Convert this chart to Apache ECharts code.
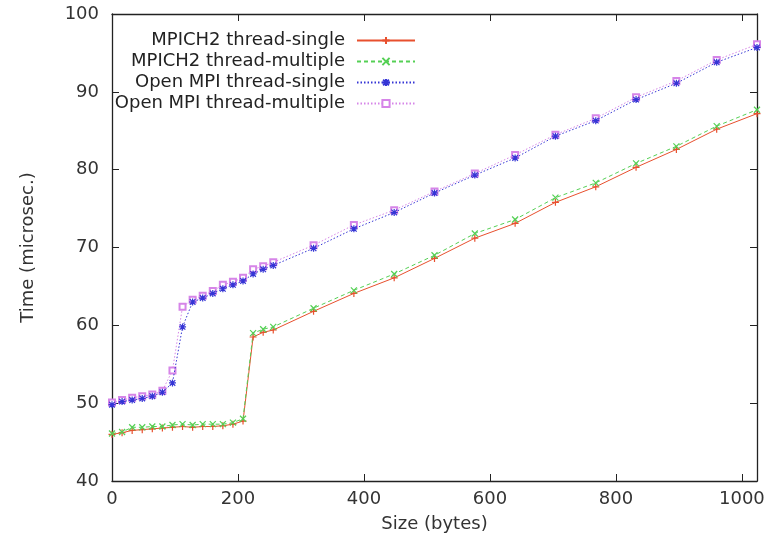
<!DOCTYPE html>
<html>
<head>
<meta charset="utf-8">
<script src="https://cdn.jsdelivr.net/npm/echarts@6/dist/echarts.min.js"></script>
<style>
html, body { margin: 0; padding: 0; background: #fff; }
#chart { width: 774px; height: 542px; }
</style>
</head>
<body>
<div id="chart"></div>
<script>
// message sizes in bytes
const sizes = [0, 16, 32, 48, 64, 80, 96, 112, 128, 144, 160, 176, 192, 208, 224, 240, 256,
  320, 384, 448, 512, 576, 640, 704, 768, 832, 896, 960, 1024]

// times in microseconds
const mpichSingle = [46.0, 46.2, 46.5, 46.6, 46.7, 46.8, 46.9, 47.0, 46.9, 47.0, 47.0, 47.1, 47.3, 47.7, 58.5, 59.1, 59.4,
  61.8, 64.1, 66.1, 68.6, 71.2, 73.1, 75.8, 77.8, 80.3, 82.6, 85.2, 87.2]
const mpichMulti = [46.1, 46.3, 46.9, 46.9, 47.0, 47.0, 47.2, 47.3, 47.2, 47.3, 47.3, 47.3, 47.5, 48.0, 59.0, 59.5, 59.8,
  62.2, 64.5, 66.6, 69.0, 71.8, 73.6, 76.4, 78.3, 80.8, 83.0, 85.6, 87.7]
const ompiSingle = [49.8, 50.2, 50.4, 50.6, 50.9, 51.4, 52.6, 59.8, 63.0, 63.5, 64.1, 64.7, 65.2, 65.7, 66.6, 67.2, 67.7,
  69.9, 72.4, 74.5, 77.0, 79.3, 81.5, 84.3, 86.3, 89.0, 91.1, 93.8, 95.7]
const ompiMulti = [50.1, 50.4, 50.7, 50.9, 51.1, 51.6, 54.2, 62.4, 63.3, 63.8, 64.4, 65.2, 65.6, 66.1, 67.2, 67.6, 68.1,
  70.3, 72.9, 74.8, 77.2, 79.5, 81.9, 84.5, 86.6, 89.3, 91.4, 94.1, 96.1]

const xTicks = [0, 200, 400, 600, 800, 1000]
const yTicks = [40, 50, 60, 70, 80, 90, 100]

const seriesNames = ['MPICH2 thread-single', 'MPICH2 thread-multiple', 'Open MPI thread-single', 'Open MPI thread-multiple']

const font = 'DejaVu Sans, sans-serif'
const plusPath = 'path://M0,5L10,5M5,0L5,10'
const crossPath = 'path://M1,1L9,9M9,1L1,9'
const starPath = 'path://M0,5L10,5M5,0L5,10M1,1L9,9M9,1L1,9'

const chart = echarts.init(document.getElementById('chart'))

function zip(values) {
  return sizes.map((s, i) => [s, values[i]])
}

function makeSeries(name, values, color, symbol, symbolSize, lineType, z) {
  const empty = symbol === 'emptyRect'
  return {
    name: name,
    type: 'line',
    data: zip(values),
    color: color,
    symbol: symbol,
    symbolSize: symbolSize,
    showAllSymbol: true,
    z: z,
    lineStyle: { color: color, width: 1, type: lineType },
    itemStyle: empty
      ? { color: color, borderColor: color, borderWidth: 1 }
      : { color: 'none', borderColor: color, borderWidth: 1.2 },
  }
}

const axisLine = { show: true, onZero: false, lineStyle: { color: '#222', width: 1.3 } }
const tickStyle = { show: true, inside: true, length: 7, lineStyle: { color: '#222', width: 1 } }
const labelFmt = v => String(v)

const option = {
  backgroundColor: '#fff',
  animation: false,
  grid: { left: 112, right: 17, top: 14, bottom: 61 },
  legend: {
    data: seriesNames,
    orient: 'vertical',
    align: 'right',
    right: 353,
    top: 25,
    itemWidth: 58,
    itemHeight: 9,
    itemGap: 0,
    textStyle: { fontFamily: font, fontSize: 18, color: '#222', lineHeight: 21, padding: [0, 7, 0, 0] },
  },
  xAxis: [
    {
      type: 'value',
      min: 0,
      max: 1024,
      name: 'Size (bytes)',
      nameLocation: 'middle',
      nameGap: 34,
      nameTextStyle: { fontFamily: font, fontSize: 18, color: '#333' },
      axisLine: axisLine,
      axisTick: Object.assign({ customValues: xTicks }, tickStyle),
      axisLabel: { customValues: xTicks, formatter: labelFmt, fontFamily: font, fontSize: 18, color: '#333', margin: 9 },
      splitLine: { show: false },
    },
    {
      type: 'value',
      position: 'top',
      min: 0,
      max: 1024,
      axisLine: axisLine,
      axisTick: Object.assign({ customValues: xTicks }, tickStyle),
      axisLabel: { show: false },
      splitLine: { show: false },
    },
  ],
  yAxis: [
    {
      type: 'value',
      min: 40,
      max: 100,
      interval: 10,
      name: 'Time (microsec.)',
      nameLocation: 'middle',
      nameGap: 75,
      nameTextStyle: { fontFamily: font, fontSize: 18, color: '#333' },
      axisLine: axisLine,
      axisTick: Object.assign({ customValues: yTicks }, tickStyle),
      axisLabel: { customValues: yTicks, formatter: labelFmt, fontFamily: font, fontSize: 18, color: '#333', margin: 13 },
      splitLine: { show: false },
    },
    {
      type: 'value',
      position: 'right',
      min: 40,
      max: 100,
      interval: 10,
      axisLine: axisLine,
      axisTick: Object.assign({ customValues: yTicks }, tickStyle),
      axisLabel: { show: false },
      splitLine: { show: false },
    },
  ],
  series: [
    makeSeries(seriesNames[0], mpichSingle, '#e8502e', plusPath, 7, 'solid', 3),
    makeSeries(seriesNames[1], mpichMulti, '#55d055', crossPath, 6, [4, 3], 3),
    makeSeries(seriesNames[2], ompiSingle, '#3535d5', starPath, 7, [1.5, 2], 4),
    makeSeries(seriesNames[3], ompiMulti, '#d685e8', 'emptyRect', 6, [1.5, 2], 2),
  ],
}

option && chart.setOption(option)
</script>
</body>
</html>
